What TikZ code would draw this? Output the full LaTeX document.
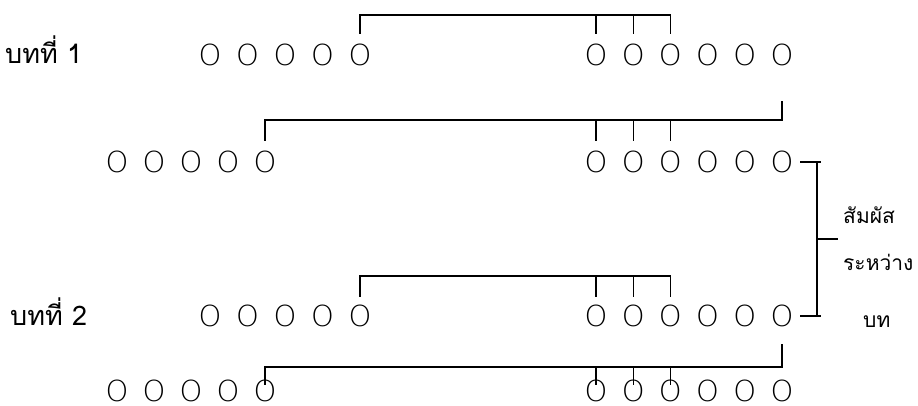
\documentclass[tikz,border=0pt]{standalone}
\usepackage{fontspec}
\setmainfont{Liberation Sans}
\newfontfamily\thaifont[Script=Thai]{Loma}
\newfontfamily\sylfont{DejaVu Sans ExtraLight}
\usetikzlibrary{positioning}

\begin{document}
\begin{tikzpicture}[x=1pt, y=-1pt,
  syl/.style={inner sep=0pt, font=\sylfont\fontsize{29}{29}\selectfont},
  chap/.style={inner sep=0pt, anchor=base west,
               font=\thaifont\fontsize{27}{30}\selectfont},
  note/.style={inner sep=0pt, anchor=base west,
               font=\thaifont\fontsize{21}{24}\selectfont},
  lnk/.style={line width=1.3pt, line cap=rect}
]
\useasboundingbox[fill=white] (0,0) rectangle (918,405);

%% ── nodes ───────────────────────────────────────────────────────────────
\node[chap] (ch1) at (5,63)   {บทที่ 1};
\node[chap] (ch2) at (10,325) {บทที่ 2};

% syllables, rows 1 and 3 (indented), rows 2 and 4
\foreach \i in {1,...,5} {
  \node[syl] (r1a\i) at ({210+37.5*(\i-1)},55)  {O};
  \node[syl] (r2a\i) at ({117+37*(\i-1)},162)   {O};
  \node[syl] (r3a\i) at ({210+37.5*(\i-1)},316) {O};
  \node[syl] (r4a\i) at ({117+37*(\i-1)},391)   {O};
}
\foreach \i in {1,...,6} {
  \node[syl] (r1b\i) at ({596+37.2*(\i-1)},55)  {O};
  \node[syl] (r2b\i) at ({596+37.2*(\i-1)},162) {O};
  \node[syl] (r3b\i) at ({596+37.2*(\i-1)},316) {O};
  \node[syl] (r4b\i) at ({596+37.2*(\i-1)},391) {O};
}

% between the stanzas
\node[note] (n1) at (843,223) {สัมผัส};
\node[note] (n2) at (843,270) {ระหว่าง};
\node[note] (n3) at (863,327) {บท};

%% ── rhymes ──────────────────────────────────────────────────────────────
% stanza 1
\draw[lnk] ([yshift=22pt]r1a5.center) -- ([yshift=40pt]r1a5.center)
           -- ([yshift=40pt]r1b3.center);
\foreach \i in {1,2,3}
  \draw[lnk] ([yshift=40pt]r1b\i.center) -- ([yshift=22pt]r1b\i.center);
\draw[lnk] ([yshift=-47pt]r1b6.center) |- ([yshift=42pt]r2a5.center)
           -- ([yshift=22pt]r2a5.center);
\foreach \i in {1,2,3}
  \draw[lnk] ([yshift=42pt]r2b\i.center) -- ([yshift=22pt]r2b\i.center);

% stanza 2
\draw[lnk] ([yshift=20pt]r3a5.center) -- ([yshift=40pt]r3a5.center)
           -- ([yshift=40pt]r3b3.center);
\foreach \i in {1,2,3}
  \draw[lnk] ([yshift=40pt]r3b\i.center) -- ([yshift=20pt]r3b\i.center);
\draw[lnk] ([yshift=-29pt]r3b6.center) |- ([yshift=24pt]r4a5.center)
           -- ([yshift=7pt]r4a5.center);
\foreach \i in {1,2,3}
  \draw[lnk] ([yshift=24pt]r4b\i.center) -- ([yshift=7pt]r4b\i.center);

% across the stanzas
\draw[lnk] ([xshift=19pt]r2b6.center) -- ([xshift=38pt]r2b6.center);
\draw[lnk] ([xshift=19pt]r3b6.center) -- ([xshift=38pt]r3b6.center);
\draw[lnk] ([xshift=35pt]r2b6.center) -- ([xshift=35pt]r3b6.center)
           coordinate[midway] (brmid);
\draw[lnk] (brmid) -- ([xshift=20pt]brmid);

\end{tikzpicture}
\end{document}
